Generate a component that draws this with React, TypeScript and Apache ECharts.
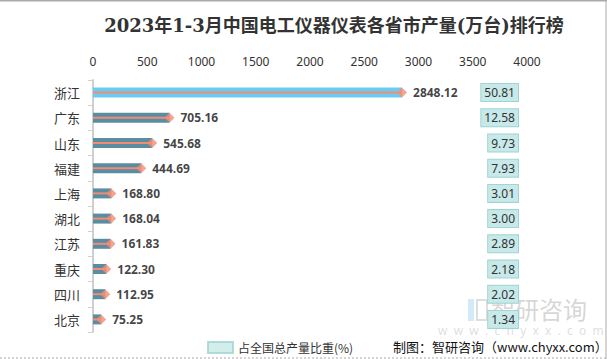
import React, { useEffect, useRef } from "react";
import * as echarts from "echarts";

const categories = ["浙江", "广东", "山东", "福建", "上海", "湖北", "江苏", "重庆", "四川", "北京"];
const outputValues = [2848.12, 705.16, 545.68, 444.69, 168.8, 168.04, 161.83, 122.3, 112.95, 75.25];
const shareLabels = ["50.81", "12.58", "9.73", "7.93", "3.01", "3.00", "2.89", "2.18", "2.02", "1.34"];
const xTickMax = 4000;
const xTickStep = 500;

export default function App() {
  const ref = useRef<HTMLDivElement>(null);
  useEffect(() => {
    if (!ref.current) return;
    const chart = echarts.init(ref.current, null, { renderer: "svg" });
    const option: any = {
      animation: false,
      backgroundColor: "#fff",
      title: {
        text: "2023年1-3月中国电工仪器仪表各省市产量(万台)排行榜",
        left: 329,
        top: 11,
        textAlign: "center",
        textStyle: {
          fontFamily: "'DejaVu Serif', 'Liberation Serif', 'Noto Sans CJK SC', serif",
          fontSize: 18,
          fontWeight: "bold",
          color: "#333",
        },
      },
      legend: {
        data: ["占全国总产量比重(%)"],
        left: 202,
        top: 336,
        icon: "rect",
        itemWidth: 25,
        itemHeight: 11,
        itemGap: 10,
        textStyle: { fontSize: 12, color: "#333", fontFamily: "'Noto Sans CJK SC', sans-serif" },
      },
      grid: { left: 93, right: 80, top: 80, bottom: 27, containLabel: false },
      xAxis: {
        type: "value",
        position: "top",
        min: 0,
        max: xTickMax,
        interval: xTickStep,
        axisLine: { show: false },
        axisTick: { show: false },
        splitLine: { show: false },
        axisLabel: {
          color: "#333",
          fontSize: 12,
          margin: 13,
          fontFamily: "'Noto Sans', sans-serif",
          formatter: (v: number) => String(v),
        },
      },
      yAxis: [
        {
          type: "category",
          data: categories,
          inverse: true,
          axisLine: { show: true, lineStyle: { color: "#d0d0d0", width: 2 } },
          axisTick: { show: true, length: 5, lineStyle: { color: "#d0d0d0" } },
          axisLabel: { color: "#333", fontSize: 13, margin: 13, fontFamily: "'Noto Sans CJK SC', sans-serif" },
        },
        {
          type: "category",
          data: shareLabels,
          inverse: true,
          position: "right",
          axisLine: { show: false },
          axisTick: { show: false },
          axisLabel: {
            inside: true,
            margin: 9,
            color: "#333",
            fontSize: 12,
            fontFamily: "'Noto Sans', sans-serif",
            backgroundColor: "#C8E9E9",
            borderColor: "#9FD4D0",
            borderWidth: 1,
            padding: [3, 3, 2, 3],
          },
        },
      ],
      series: [
        {
          name: "产量",
          type: "bar",
          yAxisIndex: 0,
          barWidth: 10,
          data: outputValues.map((v, i) => ({
            value: v,
            itemStyle: { color: i === 0 ? "#6CCBF2" : "#5A8CA2" },
          })),
        },
        {
          name: "线",
          type: "bar",
          yAxisIndex: 1,
          barWidth: 2,
          itemStyle: { color: "#F28D74" },
          data: outputValues,
          z: 3,
        },
        {
          name: "点",
          type: "scatter",
          yAxisIndex: 0,
          symbol: "diamond",
          symbolSize: [10, 10],
          itemStyle: { color: "#F28D74" },
          z: 4,
          data: outputValues.map((v, i) => [v, categories[i]]),
          label: {
            show: true,
            position: "right",
            distance: 6,
            color: "#111",
            fontSize: 12,
            fontWeight: "bold",
            fontFamily: "'Noto Sans', sans-serif",
            formatter: (p: any) => p.value[0].toFixed(2),
          },
        },
        {
          name: "占全国总产量比重(%)",
          type: "scatter",
          data: [],
          itemStyle: { color: "#C8E9E9", borderColor: "#9FD4D0", borderWidth: 1 },
        },
      ],
      graphic: [
        { type: "line", shape: { x1: 0, y1: 0.5, x2: 607, y2: 0.5 }, style: { stroke: "#aaa", lineWidth: 2 } },
        { type: "line", shape: { x1: 0, y1: 358, x2: 607, y2: 358 }, style: { stroke: "#aaa", lineWidth: 1, lineDash: [2, 2] } },
        { type: "line", shape: { x1: 606, y1: 0, x2: 606, y2: 359 }, style: { stroke: "#aaa", lineWidth: 1 } },
        { type: "rect", z: -1, shape: { x: 468, y: 299, width: 6, height: 22 }, style: { fill: "rgba(110,190,235,0.3)" } },
        { type: "rect", z: -1, shape: { x: 477, y: 300, width: 10, height: 20 }, style: { fill: "none", stroke: "rgba(160,160,160,0.35)", lineWidth: 2 } },
        {
          type: "text",
          z: -1,
          x: 491,
          y: 296,
          style: {
            text: "智研咨询",
            fontSize: 24,
            fill: "rgba(150,150,150,0.4)",
            fontFamily: "'Noto Sans CJK SC', sans-serif",
          },
        },
        {
          type: "text",
          z: -1,
          x: 438,
          y: 324,
          style: {
            text: "w  w  w  .  c  h  y  x  x  .  c  o  m",
            fontSize: 12,
            fill: "rgba(170,170,170,0.4)",
            fontFamily: "'Noto Sans', sans-serif",
          },
        },
        {
          type: "text",
          x: 393,
          y: 340,
          style: {
            text: "制图：智研咨询（www.chyxx.com）",
            fontSize: 13,
            fill: "#111",
            fontFamily: "'Noto Sans CJK SC', sans-serif",
          },
        },
      ],
    };
    chart.setOption(option);
    return () => chart.dispose();
  }, []);
  return <div ref={ref} style={{ position: "absolute", left: 0, top: 0, width: 607, height: 359 }} />;
}
